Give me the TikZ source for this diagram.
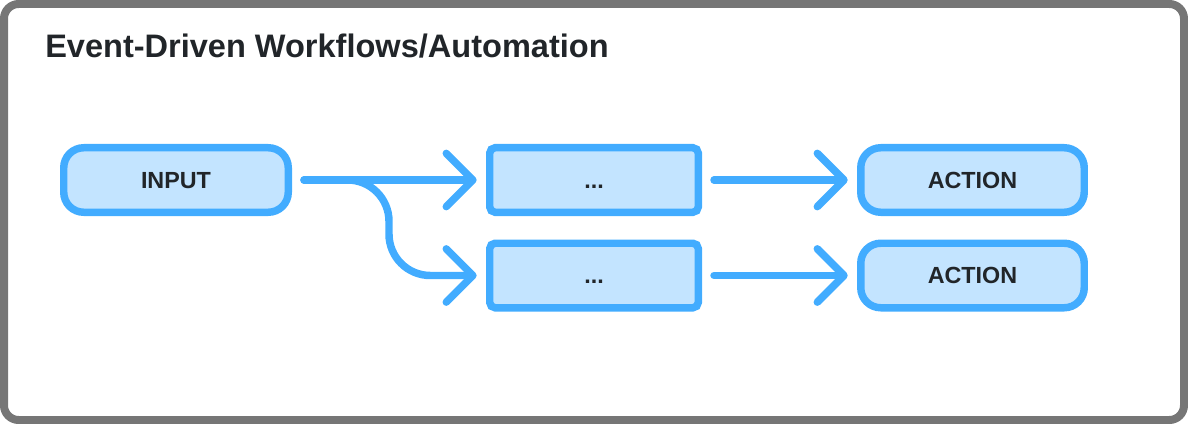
\documentclass[tikz,border=0pt]{standalone}
\usepackage{fontspec}
\setmainfont{Liberation Sans}
\usetikzlibrary{arrows.meta}
\usetikzlibrary{positioning}

\definecolor{flowblue}{RGB}{66,172,255}
\definecolor{flowfill}{RGB}{195,228,255}
\definecolor{framegray}{RGB}{118,118,118}
\definecolor{inktext}{RGB}{33,37,41}

\begin{document}
\begin{tikzpicture}[x=0.75pt,y=0.75pt,yscale=-1,xscale=1,
  pill/.style={draw=flowblue, fill=flowfill, line width=5.6pt, rounded corners=15pt,
    minimum height=48.4pt, inner sep=0pt, text height=12.5pt, text depth=0pt,
    font=\fontsize{17.5}{20}\selectfont\bfseries, text=inktext},
  stepbox/.style={pill, rounded corners=4pt},
  flow/.style={draw=flowblue, line width=5.6pt, line cap=round,
    -{Straight Barb[length=20pt,width=40pt,round]}, shorten <=9pt, shorten >=7pt}]
\useasboundingbox (0,0) rectangle (1188,424);
%Outer frame
\draw [framegray, line width=6pt, rounded corners=11pt] (4,4) rectangle (1184,420);
% Title
\node [anchor=base west, inner sep=0pt, font=\fontsize{24.4}{28}\selectfont\bfseries, text=inktext] (title) at (45,58) {Event-Driven Workflows/Automation};
% Nodes
\node [pill, minimum width=168.4pt] (input) at (176,180) {INPUT};
\node [stepbox, minimum width=156.4pt] (step1) at (594,180) {...};
\node [stepbox, minimum width=156.4pt] (step2) at (594,275.5) {...};
\node [pill, minimum width=167.6pt] (action1) at (972.5,180) {ACTION};
\node [pill, minimum width=167.6pt] (action2) at (972.5,275.5) {ACTION};
\coordinate (fork) at (389,180);
% Arrows
\draw [flow] (input) -- (step1);
\draw [flow, rounded corners=31pt] (input.east) -- (fork) |- (step2);
\draw [flow] (step1) -- (action1);
\draw [flow] (step2) -- (action2);
\end{tikzpicture}
\end{document}
